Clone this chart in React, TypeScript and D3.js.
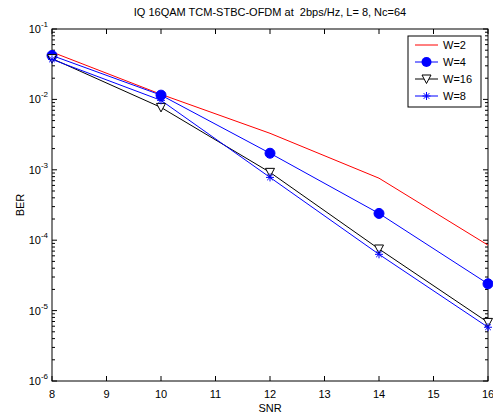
import React from "react";
import * as d3 from "d3";

const snr = [8, 10, 12, 14, 16];
const berW2 = [0.047, 0.0118, 0.0033, 0.00076, 0.000085];
const berW4 = [0.042, 0.0115, 0.00172, 0.00024, 0.000024];
const berW16 = [0.038, 0.0077, 0.00092, 0.000075, 0.0000068];
const berW8 = [0.037, 0.0097, 0.00078, 0.000063, 0.0000058];
const xTicks = [8, 9, 10, 11, 12, 13, 14, 15, 16];
const yDecades = [-1, -2, -3, -4, -5, -6];

const W = 493, H = 416;
const L = 52, R = 488, T = 29, B = 381;

export default function App() {
  const x = d3.scaleLinear().domain([8, 16]).range([L, R]);
  const y = d3.scaleLog().domain([1e-6, 1e-1]).range([B, T]);
  const line = d3.line<number>().x((_, i) => x(snr[i])).y((d) => y(d));
  const font = "Arial, 'Liberation Sans', sans-serif";

  const minor: number[] = [];
  for (let e = -6; e < -1; e++) {
    for (let k = 2; k <= 9; k++) minor.push(k * Math.pow(10, e));
  }

  const star = (cx: number, cy: number, key: string, color: string) => {
    const r = 4;
    const d = r * 0.7071;
    return (
      <g key={key} stroke={color} strokeWidth={1}>
        <line x1={cx - r} y1={cy} x2={cx + r} y2={cy} />
        <line x1={cx} y1={cy - r} x2={cx} y2={cy + r} />
        <line x1={cx - d} y1={cy - d} x2={cx + d} y2={cy + d} />
        <line x1={cx - d} y1={cy + d} x2={cx + d} y2={cy - d} />
      </g>
    );
  };
  const tri = (cx: number, cy: number, key: string) => (
    <path key={key} d={`M${cx - 4.5},${cy - 4} L${cx + 4.5},${cy - 4} L${cx},${cy + 4.5} Z`} fill="white" stroke="black" strokeWidth={1} />
  );

  const legY = [45, 62, 79, 96];
  const legX1 = 415, legX2 = 438;

  return (
    <svg width={W} height={H} style={{ position: "absolute", left: 0, top: 0 }} fontFamily={font}>
      <rect x={0} y={0} width={W} height={H} fill="white" />
      <defs>
        <clipPath id="clip">
          <rect x={L} y={T} width={R - L + 6} height={B - T} />
        </clipPath>
      </defs>
      {xTicks.map((t) => (
        <g key={"xt" + t} stroke="black" strokeWidth={1}>
          <line x1={x(t)} x2={x(t)} y1={B} y2={B - 5} />
          <line x1={x(t)} x2={x(t)} y1={T} y2={T + 5} />
        </g>
      ))}
      {yDecades.map((e) => (
        <g key={"yt" + e} stroke="black" strokeWidth={1}>
          <line x1={L} x2={L + 5} y1={y(Math.pow(10, e))} y2={y(Math.pow(10, e))} />
          <line x1={R} x2={R - 5} y1={y(Math.pow(10, e))} y2={y(Math.pow(10, e))} />
        </g>
      ))}
      {minor.map((v, i) => (
        <g key={"mt" + i} stroke="black" strokeWidth={1}>
          <line x1={L} x2={L + 3} y1={y(v)} y2={y(v)} />
          <line x1={R} x2={R - 3} y1={y(v)} y2={y(v)} />
        </g>
      ))}
      <rect x={L} y={T} width={R - L} height={B - T} fill="none" stroke="black" strokeWidth={1} />
      {xTicks.map((t) => (
        <text key={"xl" + t} x={x(t)} y={B + 17} fontSize={11} textAnchor="middle">{t}</text>
      ))}
      {yDecades.map((e) => (
        <text key={"yl" + e} x={L - 4} y={y(Math.pow(10, e)) + 4} fontSize={11} textAnchor="end">
          10<tspan fontSize={8} dy={-6}>{e}</tspan>
        </text>
      ))}
      <text x={(L + R) / 2} y={412} fontSize={11} textAnchor="middle">SNR</text>
      <text transform={`translate(24,${(T + B) / 2}) rotate(-90)`} fontSize={11} textAnchor="middle">BER</text>
      <text x={(L + R) / 2} y={16} fontSize={11} textAnchor="middle" style={{ whiteSpace: "pre" }}>
        {"IQ 16QAM TCM-STBC-OFDM at  2bps/Hz, L= 8, Nc=64"}
      </text>
      <g clipPath="url(#clip)" fill="none">
        <path d={line(berW2) || ""} stroke="red" strokeWidth={1} />
        <path d={line(berW4) || ""} stroke="blue" strokeWidth={1} />
        <path d={line(berW16) || ""} stroke="black" strokeWidth={1} />
        <path d={line(berW8) || ""} stroke="blue" strokeWidth={1} />
      </g>
      {berW4.map((v, i) => (
        <circle key={"c" + i} cx={x(snr[i])} cy={y(v)} r={5} fill="blue" stroke="blue" />
      ))}
      {berW16.map((v, i) => tri(x(snr[i]), y(v), "t" + i))}
      {berW8.map((v, i) => star(x(snr[i]), y(v), "s" + i, "blue"))}
      <rect x={408} y={36} width={73} height={71} fill="white" stroke="black" strokeWidth={1} />
      <line x1={legX1} x2={legX2} y1={legY[0]} y2={legY[0]} stroke="red" />
      <line x1={legX1} x2={legX2} y1={legY[1]} y2={legY[1]} stroke="blue" />
      <circle cx={(legX1 + legX2) / 2} cy={legY[1]} r={5} fill="blue" />
      <line x1={legX1} x2={legX2} y1={legY[2]} y2={legY[2]} stroke="black" />
      {tri((legX1 + legX2) / 2, legY[2], "lt")}
      <line x1={legX1} x2={legX2} y1={legY[3]} y2={legY[3]} stroke="blue" />
      {star((legX1 + legX2) / 2, legY[3], "ls", "blue")}
      {["W=2", "W=4", "W=16", "W=8"].map((s, i) => (
        <text key={s} x={443} y={legY[i] + 4} fontSize={11}>{s}</text>
      ))}
    </svg>
  );
}
